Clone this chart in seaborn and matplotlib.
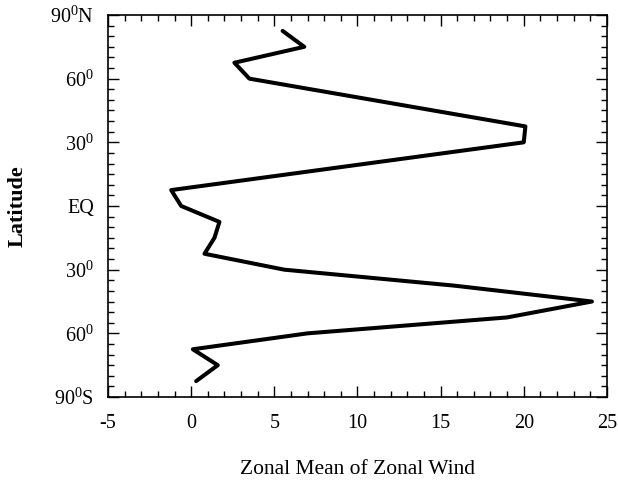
import matplotlib
matplotlib.use("Agg")
import matplotlib.pyplot as plt
from matplotlib.ticker import MultipleLocator, FixedLocator
import seaborn as sns
import pandas as pd

# Data
latitude = [82.5, 75, 67.5, 60, 37.5, 30, 7.5, 0, -7.5, -15, -22.5, -30, -37.5, -45, -52.5, -60, -67.5, -75, -82.5]
zonal_wind = [5.5, 6.8, 2.6, 3.5, 20.1, 20.0, -1.2, -0.6, 1.7, 1.4, 0.8, 5.6, 15.8, 24.1, 19.0, 7.0, 0.1, 1.6, 0.3]

x_ticks = [-5, 0, 5, 10, 15, 20, 25]
y_ticks = [90, 60, 30, 0, -30, -60, -90]
y_tick_labels = [r"$\mathregular{90^{0}}$N", r"$\mathregular{60^{0}}$", r"$\mathregular{30^{0}}$", "EQ",
                 r"$\mathregular{30^{0}}$", r"$\mathregular{60^{0}}$", r"$\mathregular{90^{0}}$S"]

sns.set_style("ticks")
plt.rcParams["font.family"] = ["Liberation Serif", "DejaVu Serif"]
plt.rcParams["mathtext.fontset"] = "custom"
plt.rcParams["mathtext.rm"] = "Liberation Serif"
plt.rcParams["text.color"] = "black"
plt.rcParams["axes.labelcolor"] = "black"
plt.rcParams["xtick.color"] = "black"
plt.rcParams["ytick.color"] = "black"

df = pd.DataFrame({"lat": latitude, "wind": zonal_wind})

fig = plt.figure(figsize=(6.18, 4.83), dpi=100)
ax = fig.add_axes([0.1748, 0.178, 0.8072, 0.791])

sns.lineplot(data=df, x="wind", y="lat", sort=False, orient="y", estimator=None,
             color="black", linewidth=2.9, ax=ax)

ax.set_xlim(-5, 25)
ax.set_ylim(-90, 90)
ax.xaxis.set_major_locator(FixedLocator(x_ticks))
ax.xaxis.set_minor_locator(MultipleLocator(1))
ax.yaxis.set_major_locator(FixedLocator(y_ticks))
ax.yaxis.set_minor_locator(MultipleLocator(5))
ax.set_xticklabels([str(t) for t in x_ticks])
ax.set_yticklabels(y_tick_labels)

ax.tick_params(which="both", direction="in", top=True, right=True, color="black", width=1.0)
ax.tick_params(which="major", length=8, labelsize=14.5)
ax.tick_params(axis="x", which="major", pad=12)
ax.tick_params(axis="y", which="major", pad=10)
ax.tick_params(which="minor", length=4.5)

for s in ax.spines.values():
    s.set_visible(True)
    s.set_linewidth(1.2)
    s.set_color("black")

ax.set_xlabel("Zonal Mean of Zonal Wind", fontsize=15.5, labelpad=20)
ax.set_ylabel("Latitude", fontsize=16, fontweight="bold", labelpad=16)

fig.savefig("out.png", dpi=100)
